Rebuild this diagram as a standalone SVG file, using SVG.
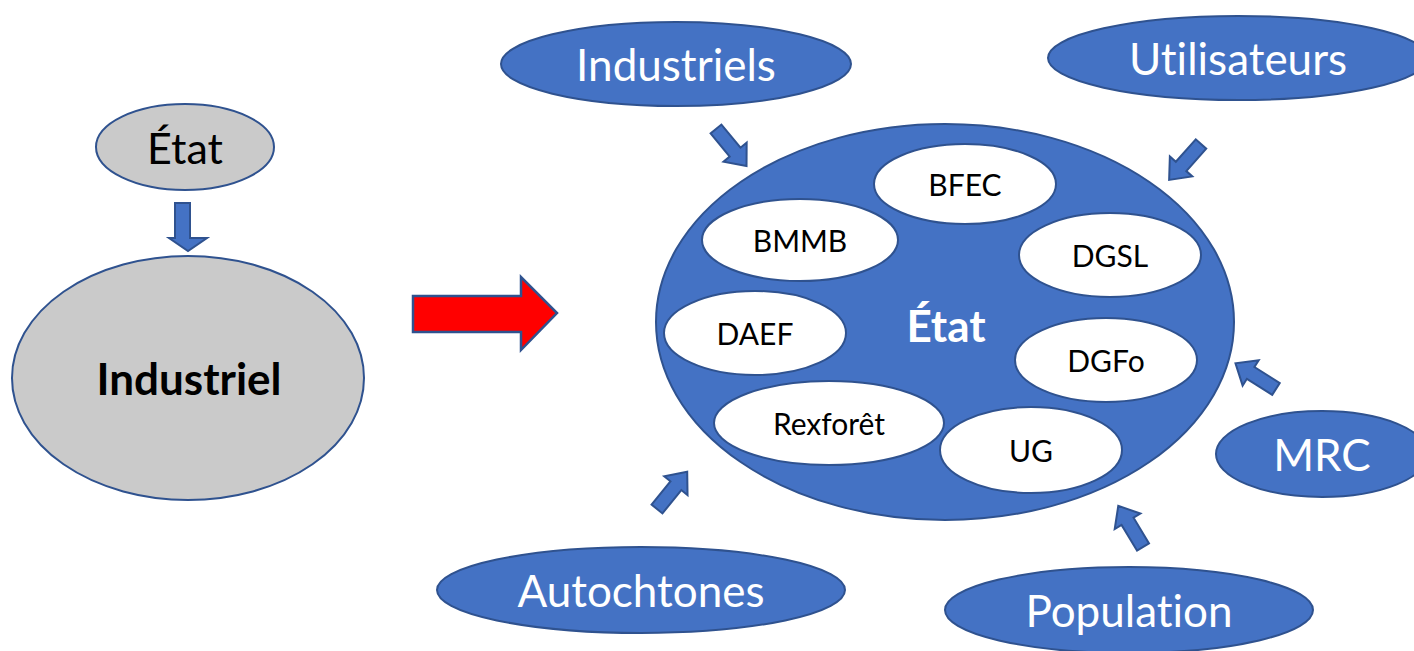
<svg xmlns="http://www.w3.org/2000/svg" xmlns:xlink="http://www.w3.org/1999/xlink" width="1414" height="651" viewBox="0 0 1414 651">
<style>
.blue{fill:#4472c4;stroke:#2f528f;stroke-width:2}
.white{fill:#ffffff;stroke:#2f528f;stroke-width:2}
.gray{fill:#cacaca;stroke:#2f528f;stroke-width:2}
.t{font-family:Lato,"Liberation Sans",sans-serif;text-anchor:middle;dominant-baseline:central;font-variant-ligatures:none}
.wt{fill:#ffffff;font-size:44px}
.in{fill:#000000;font-size:30px}
</style>
<defs>
<path id="sa" d="M0,-7 H30 V-15 L48,0 L30,15 V7 H0 Z"/>
</defs>
<rect width="1414" height="651" fill="#ffffff"/>
<g id="etat-left"><ellipse class="gray" cx="185" cy="147" rx="89" ry="43"/><text class="t" x="185" y="147" font-size="43" fill="#000">État</text></g>
<g id="industriel"><ellipse class="gray" cx="188" cy="378" rx="176" ry="122"/><text class="t" x="189" y="378" font-size="44" font-weight="bold" fill="#000">Industriel</text></g>
<g id="etat-main">
<ellipse class="blue" cx="945" cy="322" rx="289" ry="198"/>
<text class="t" x="946" y="325" font-size="44" font-weight="bold" fill="#ffffff">État</text>
</g>
<g id="bfec"><ellipse class="white" cx="965" cy="184" rx="91" ry="40"/><text class="t in" x="965" y="184">BFEC</text></g>
<g id="bmmb"><ellipse class="white" cx="800" cy="240" rx="98" ry="41"/><text class="t in" x="800" y="240">BMMB</text></g>
<g id="dgsl"><ellipse class="white" cx="1110" cy="255" rx="91" ry="42"/><text class="t in" x="1110" y="255">DGSL</text></g>
<g id="daef"><ellipse class="white" cx="755" cy="333" rx="91" ry="42"/><text class="t in" x="755" y="333">DAEF</text></g>
<g id="dgfo"><ellipse class="white" cx="1106" cy="360" rx="91" ry="42"/><text class="t in" x="1106" y="360">DGFo</text></g>
<g id="rexforet"><ellipse class="white" cx="829" cy="423" rx="115" ry="42"/><text class="t in" x="829" y="423">Rexforêt</text></g>
<g id="ug"><ellipse class="white" cx="1031" cy="450" rx="91" ry="43"/><text class="t in" x="1031" y="450">UG</text></g>
<g id="industriels"><ellipse class="blue" cx="676" cy="64" rx="175" ry="42"/><text class="t wt" x="676" y="64">Industriels</text></g>
<g id="utilisateurs"><ellipse class="blue" cx="1238" cy="58" rx="190" ry="42"/><text class="t wt" x="1238" y="58">Utilisateurs</text></g>
<g id="mrc"><ellipse class="blue" cx="1322" cy="454" rx="106" ry="43"/><text class="t wt" x="1322" y="454">MRC</text></g>
<g id="autochtones"><ellipse class="blue" cx="641" cy="590" rx="204" ry="43"/><text class="t wt" x="641" y="590">Autochtones</text></g>
<g id="population"><ellipse class="blue" cx="1129" cy="610" rx="184" ry="43"/><text class="t wt" x="1129" y="610">Population</text></g>
<g id="connectors">
<path class="blue" d="M175,203 H190 V238 H207 L188,251 L169,238 H175 Z"/>
<path d="M413,296 H521 V277 L557,313 L521,350 V332 H413 Z" fill="#ff0000" stroke="#2f528f" stroke-width="2.5"/>
<use xlink:href="#sa" class="blue" transform="translate(716,129) rotate(50.5)"/>
<use xlink:href="#sa" class="blue" transform="translate(1201,144) rotate(131.6)"/>
<use xlink:href="#sa" class="blue" transform="translate(1276,389) rotate(212.4)"/>
<use xlink:href="#sa" class="blue" transform="translate(657,509) rotate(-51)"/>
<use xlink:href="#sa" class="blue" transform="translate(1143,547) rotate(-121)"/>
</g>
</svg>
